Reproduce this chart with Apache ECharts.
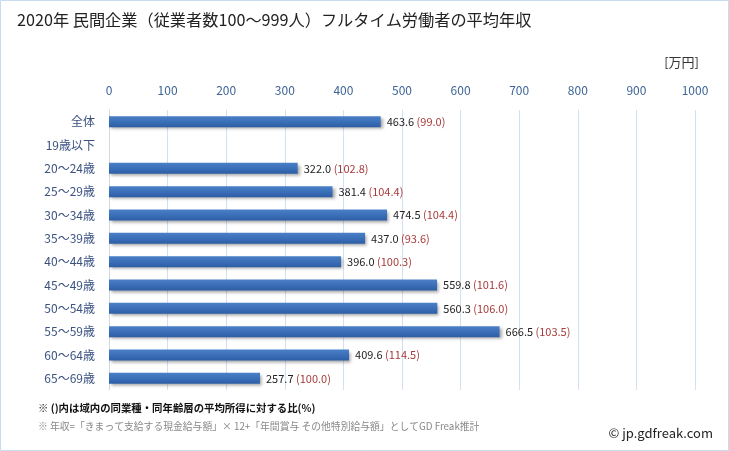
<!DOCTYPE html>
<html><head><meta charset="utf-8">
<script src="https://cdn.jsdelivr.net/npm/echarts@6/dist/echarts.min.js"></script>
<style>html,body{margin:0;padding:0;background:#fff}#c{width:729px;height:451px}</style>
</head><body><div id="c"></div>
<script>
const categories = ["全体","19歳以下","20〜24歳","25〜29歳","30〜34歳","35〜39歳","40〜44歳","45〜49歳","50〜54歳","55〜59歳","60〜64歳","65〜69歳"];
const incomes = [463.6, null, 322.0, 381.4, 474.5, 437.0, 396.0, 559.8, 560.3, 666.5, 409.6, 257.7];
const ratios = [99.0, null, 102.8, 104.4, 104.4, 93.6, 100.3, 101.6, 106.0, 103.5, 114.5, 100.0];
const xTicks = [0,100,200,300,400,500,600,700,800,900,1000];

const font = '"Noto Sans CJK JP","Noto Sans",sans-serif';
const chart = echarts.init(document.getElementById('c'));
chart.setOption({
  animation:false,
  backgroundColor:'#fff',
  graphic:[
    {type:'rect',shape:{x:0.5,y:0.5,width:728,height:450},style:{fill:'none',stroke:'#c9dcef',lineWidth:1}},
    {type:'text',left:17,top:12,style:{text:'2020年 民間企業（従業者数100〜999人）フルタイム労働者の平均年収',fontSize:16.2,fill:'#222',fontFamily:font}},
    {type:'text',right:30,top:56,style:{text:'[万円]',fontSize:13,fill:'#333',fontFamily:font}},
    {type:'text',left:38,top:403,style:{text:'※ ()内は域内の同業種・同年齢層の平均所得に対する比(%)',fontSize:10.4,fill:'#111',fontWeight:'bold',fontFamily:font}},
    {type:'text',left:38,top:421,style:{text:'※ 年収=「きまって支給する現金給与額」× 12+「年間賞与 その他特別給与額」としてGD Freak推計',fontSize:9.8,fill:'#888',fontFamily:font}},
    {type:'text',right:16,top:427,style:{text:'© jp.gdfreak.com',fontSize:13,fill:'#222',fontFamily:font}}
  ],
  grid:{left:109,right:34,top:110,bottom:61},
  xAxis:{type:'value',position:'top',min:0,max:1000,interval:100,
    axisLine:{show:false},axisTick:{show:false},
    axisLabel:{color:'#3d6497',fontSize:12,fontFamily:font,margin:14,
      formatter:v=>xTicks.includes(v)?String(v):''},
    splitLine:{lineStyle:{color:'#d3e0ee',width:1}}},
  yAxis:{type:'category',data:categories,inverse:true,
    axisLine:{show:true,lineStyle:{color:'#d0d8e2'}},axisTick:{show:false},
    axisLabel:{color:'#3b5280',fontSize:12,fontFamily:font,margin:14}},
  series:[{type:'bar',data:incomes,barWidth:11,
    itemStyle:{color:new echarts.graphic.LinearGradient(0,0,0,1,[{offset:0,color:'#4a80c8'},{offset:1,color:'#2c5ea6'}]),
      shadowColor:'rgba(0,0,0,0.35)',shadowBlur:3,shadowOffsetX:2,shadowOffsetY:2},
    label:{show:true,position:'right',distance:6,fontFamily:font,fontSize:11,
      formatter:p=>p.value==null?'':'{a|'+p.value.toFixed(1)+'} {b|('+ratios[p.dataIndex].toFixed(1)+')}',
      rich:{a:{color:'#222',fontSize:11,fontFamily:font},b:{color:'#a83a3a',fontSize:11,fontFamily:font}}}
  }]
});
</script></body></html>
